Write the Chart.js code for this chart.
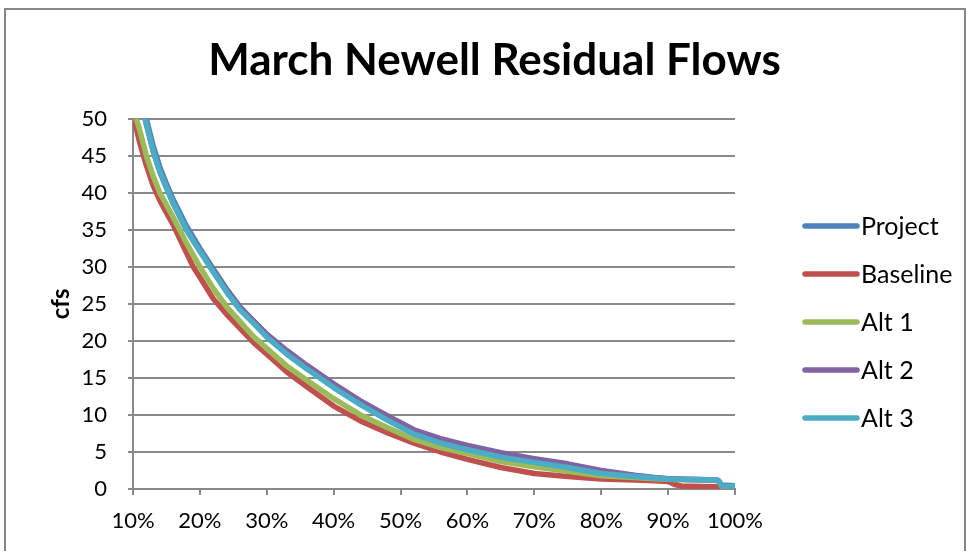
<!DOCTYPE html>
<html>
<head>
<meta charset="utf-8">
<title>March Newell Residual Flows</title>
<script src="https://cdn.jsdelivr.net/npm/chart.js@4.4.1/dist/chart.umd.min.js"></script>
<style>
  body { margin: 0; background: #fff; }
  #wrap { position: relative; width: 969px; height: 551px; overflow: hidden; }
  #frame { position: absolute; left: 4px; top: 8px; width: 962px; height: 600px; border: 2px solid #878787; box-sizing: border-box; }
  #chart { position: absolute; left: 0; top: 0; }
</style>
</head>
<body>
<div id="wrap">
  <div id="frame"></div>
  <canvas id="chart" width="969" height="551"></canvas>
</div>
<script>
// Percent of time exceeded (x axis)
const exceedance = [10, 11, 12, 13, 14, 15, 16, 17, 18, 19, 20, 22, 24, 26, 28, 30, 33, 36, 40, 44,
  48, 52, 56, 60, 65, 70, 75, 80, 85, 88, 90, 91, 92, 95, 97, 97.5, 98, 100];

// Residual flow (cfs) for each scenario
const project = [58, 54, 50, 46.4, 43.5, 41.2, 39.1, 37.3, 35.5, 34, 32.5, 29.7, 27, 24.6, 22.7, 20.8, 18.5, 16.5, 13.9, 11.6,
  9.5, 7.6, 6.4, 5.5, 4.5, 3.8, 3.1, 2.3, 1.75, 1.5, 1.38, 1.35, 1.32, 1.26, 1.21, 1.15, 0.5, 0.45];
const baseline = [50.5, 46.8, 43.7, 41, 39, 37.3, 35.7, 33.8, 31.9, 30, 28.6, 25.7, 23.6, 21.7, 19.8, 18.2, 15.8, 13.8, 11.2, 9.2,
  7.6, 6.2, 5.0, 4.0, 2.9, 2.1, 1.7, 1.35, 1.22, 1.1, 1.0, 0.6, 0.4, 0.35, 0.32, 0.3, 0.3, 0.3];
const alt1 = [51.5, 48.5, 45, 42.3, 40, 38.4, 36.7, 35, 33.2, 31.6, 30, 27.1, 24.6, 22.6, 20.6, 19, 16.6, 14.7, 12.2, 10,
  8.3, 6.7, 5.6, 4.8, 3.7, 3.0, 2.4, 1.8, 1.55, 1.4, 1.3, 1.28, 1.25, 1.2, 1.15, 1.1, 0.4, 0.4];
const alt2 = [57, 53, 49.3, 45.7, 42.9, 40.7, 38.6, 36.8, 35, 33.6, 32.2, 29.5, 26.9, 24.5, 22.7, 20.9, 18.7, 16.7, 14.2, 11.9,
  9.9, 8.0, 6.8, 5.9, 4.9, 4.1, 3.4, 2.5, 1.85, 1.55, 1.4, 1.35, 1.32, 1.27, 1.22, 1.15, 0.5, 0.45];
const alt3 = [57, 53, 49.3, 45.7, 42.9, 40.7, 38.6, 36.8, 35, 33.5, 32.1, 29.3, 26.6, 24.2, 22.4, 20.5, 18.2, 16.2, 13.7, 11.4,
  9.3, 7.4, 6.2, 5.3, 4.3, 3.6, 2.9, 2.1, 1.7, 1.5, 1.35, 1.33, 1.3, 1.25, 1.2, 1.15, 0.45, 0.4];

const seriesNames = ["Project", "Baseline", "Alt 1", "Alt 2", "Alt 3"];
const seriesColors = ["#4F81BD", "#C0504D", "#9BBB59", "#8064A2", "#4BACC6"];
const yTicks = [0, 50, 5];

const gridGrey = "#898989";
const font = "Lato";

function toPoints(values) {
  return values.map((v, i) => ({ x: exceedance[i], y: v }));
}

// Legend drawn as thick line samples to the right of the plot
const lineLegend = {
  id: "lineLegend",
  afterDraw(chart) {
    const { ctx, chartArea } = chart;
    const x = chartArea.right + 70;
    const midY = (chartArea.top + chartArea.bottom) / 2;
    ctx.save();
    ctx.font = "25px " + font;
    ctx.textBaseline = "middle";
    ctx.lineCap = "round";
    ctx.lineWidth = 5.5;
    chart.data.datasets.forEach((ds, i) => {
      const y = midY + 18 + (i - 2) * 48;
      ctx.strokeStyle = ds.borderColor;
      ctx.beginPath();
      ctx.moveTo(x, y);
      ctx.lineTo(x + 52, y);
      ctx.stroke();
      ctx.fillStyle = "#000";
      ctx.fillText(ds.label, x + 56, y + 1);
    });
    ctx.restore();
  },
};

const allSeries = [project, baseline, alt1, alt2, alt3];

new Chart("chart", {
  type: "line",
  data: {
    datasets: allSeries.map((values, i) => ({
      label: seriesNames[i],
      data: toPoints(values),
      borderColor: seriesColors[i],
      backgroundColor: seriesColors[i],
      borderWidth: 5.5,
      pointRadius: 0,
      tension: 0,
      borderJoinStyle: "round",
      borderCapStyle: "round",
      order: allSeries.length - i, // last series drawn on top, like Excel
    })),
  },
  options: {
    responsive: false,
    animation: false,
    layout: { padding: { left: 20, right: 0, top: 0, bottom: 0 } },
    plugins: {
      legend: { display: false },
      tooltip: { enabled: false },
      title: {
        display: true,
        text: "March Newell Residual Flows",
        color: "#000",
        font: { family: font, size: 44, weight: "bold" },
        padding: { top: 34, bottom: 32 },
      },
    },
    scales: {
      x: {
        type: "linear",
        min: 10,
        max: 100,
        ticks: {
          stepSize: 10,
          color: "#000",
          padding: 13,
          font: { family: font, size: 22 },
          callback: (v) => v + "%",
        },
        grid: { drawOnChartArea: false, drawTicks: true, tickLength: 6, color: gridGrey, lineWidth: 2 },
        border: { display: true, color: gridGrey, width: 2 },
        afterFit(scale) { scale.height = 62; },
      },
      y: {
        min: yTicks[0],
        max: yTicks[1],
        ticks: {
          stepSize: yTicks[2],
          color: "#000",
          padding: 21,
          font: { family: font, size: 22 },
        },
        title: {
          display: true,
          text: "cfs",
          color: "#000",
          font: { family: font, size: 24, weight: "bold" },
          padding: { top: 27, bottom: 0 },
        },
        grid: { color: gridGrey, lineWidth: 2, tickLength: 5 },
        border: { display: true, color: gridGrey, width: 2 },
        afterFit(scale) { scale.width = 113; },
      },
      // empty right-hand axis that keeps room for the legend
      legendSpace: {
        axis: "y",
        position: "right",
        display: true,
        grid: { display: false },
        border: { display: false },
        ticks: { display: false },
        afterFit(scale) { scale.width = 234; },
      },
    },
  },
  plugins: [lineLegend],
});
</script>
</body>
</html>
